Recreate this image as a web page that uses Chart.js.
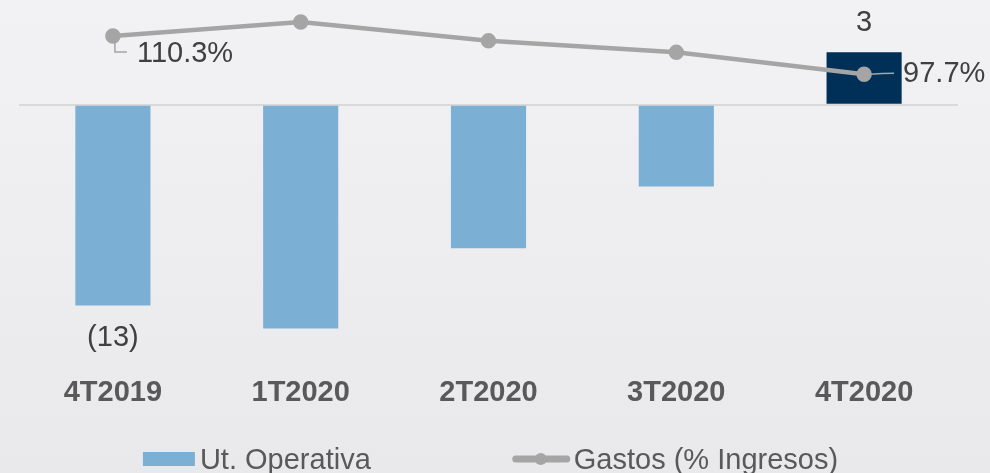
<!DOCTYPE html>
<html>
<head>
<meta charset="utf-8">
<script src="https://cdn.jsdelivr.net/npm/chart.js@4.4.1/dist/chart.umd.min.js"></script>
<style>
  html, body { margin: 0; padding: 0; }
  body { width: 990px; height: 473px; overflow: hidden; background: linear-gradient(#f2f1f3, #e9e8eb); }
  canvas { display: block; }
</style>
</head>
<body>
<canvas id="chart" width="990" height="473"></canvas>
<script>
// data
const categories = ['4T2019', '1T2020', '2T2020', '3T2020', '4T2020'];
const utOperativa = [-13, -14.5, -9.3, -5.3, 3.4];
const gastosPct = [110.3, 114.9, 108.7, 104.9, 97.7];
const barColors = ['#7bafd4', '#7bafd4', '#7bafd4', '#7bafd4', '#003057'];
const labeledIdx = [0, 4];

const FONT = '"Liberation Sans", Arial, sans-serif';
const LINE_GREY = '#a5a5a5';

// value labels for the first and last quarter
const valueLabels = {
    id: 'valueLabels',
    afterDatasetsDraw(chart) {
        const ctx = chart.ctx;
        ctx.save();
        ctx.font = '29px ' + FONT;
        ctx.fillStyle = '#404040';
        ctx.textBaseline = 'middle';

        const barMeta = chart.getDatasetMeta(0);
        labeledIdx.forEach(i => {
            const bar = barMeta.data[i];
            const v = utOperativa[i];
            const txt = v < 0 ? '(' + Math.abs(Math.round(v)) + ')' : String(Math.round(v));
            ctx.textAlign = 'center';
            ctx.fillText(txt, bar.x, v < 0 ? bar.y + 33 : bar.y - 29);
        });

        const lineMeta = chart.getDatasetMeta(1);
        ctx.strokeStyle = LINE_GREY;
        ctx.lineWidth = 1.5;
        ctx.textAlign = 'left';

        // first point: elbow leader down-right
        let p = lineMeta.data[labeledIdx[0]];
        ctx.beginPath();
        ctx.moveTo(p.x + 2, p.y + 5);
        ctx.lineTo(p.x + 2, p.y + 16);
        ctx.lineTo(p.x + 14, p.y + 16);
        ctx.stroke();
        ctx.fillText(gastosPct[labeledIdx[0]].toFixed(1) + '%', p.x + 24, p.y + 18);

        // last point: short leader to the right
        p = lineMeta.data[labeledIdx[1]];
        ctx.beginPath();
        ctx.moveTo(p.x + 6, p.y);
        ctx.quadraticCurveTo(p.x + 18, p.y - 1, p.x + 30, p.y - 1);
        ctx.stroke();
        ctx.fillText(gastosPct[labeledIdx[1]].toFixed(1) + '%', p.x + 39, p.y);
        ctx.restore();
    }
};

// legend drawn by hand so the gaps match the original
const bottomLegend = {
    id: 'bottomLegend',
    afterDraw(chart) {
        const ctx = chart.ctx;
        const area = chart.chartArea;
        const ds = chart.data.datasets;
        ctx.save();
        ctx.font = '29px ' + FONT;
        const w1 = 52 + 5 + ctx.measureText(ds[0].label).width;
        const w2 = 57 + 4 + ctx.measureText(ds[1].label).width;
        const gap = 142;
        let x = (area.left + area.right) / 2 - (w1 + gap + w2) / 2 + 2;
        const cy = chart.height - 14;

        ctx.fillStyle = barColors[0];
        ctx.fillRect(x, cy - 7, 52, 14);
        ctx.fillStyle = '#595959';
        ctx.textAlign = 'left';
        ctx.textBaseline = 'alphabetic';
        ctx.fillText(ds[0].label, x + 57, cy + 10);

        x += w1 + gap;
        ctx.strokeStyle = LINE_GREY;
        ctx.lineWidth = 7;
        ctx.lineCap = 'round';
        ctx.beginPath();
        ctx.moveTo(x + 3, cy);
        ctx.lineTo(x + 54, cy);
        ctx.stroke();
        ctx.fillStyle = LINE_GREY;
        ctx.beginPath();
        ctx.arc(x + 28, cy, 6, 0, Math.PI * 2);
        ctx.fill();
        ctx.fillStyle = '#595959';
        ctx.fillText(ds[1].label, x + 61, cy + 10);
        ctx.restore();
    }
};

new Chart(document.getElementById('chart'), {
    data: {
        labels: categories,
        datasets: [
            {
                type: 'bar',
                label: 'Ut. Operativa',
                data: utOperativa,
                backgroundColor: barColors,
                yAxisID: 'y',
                order: 1,
                barPercentage: 0.4,
                categoryPercentage: 1
            },
            {
                type: 'line',
                label: 'Gastos (% Ingresos)',
                data: gastosPct,
                yAxisID: 'y1',
                borderColor: LINE_GREY,
                backgroundColor: LINE_GREY,
                borderWidth: 4.5,
                pointRadius: 5.5,
                pointHoverRadius: 5.5,
                order: 0
            }
        ]
    },
    options: {
        responsive: false,
        animation: false,
        layout: { autoPadding: false, padding: { left: 19, right: 32, top: 0, bottom: 44 } },
        plugins: {
            legend: { display: false },
            tooltip: { enabled: false }
        },
        scales: {
            x: {
                grid: { display: false, drawTicks: false },
                border: { display: false },
                ticks: {
                    color: '#595959',
                    font: { family: FONT, size: 29, weight: 'bold' },
                    padding: 19,
                    maxRotation: 0,
                    autoSkip: false
                }
            },
            y: {
                position: 'left',
                min: -16.29,
                max: 6.79,
                ticks: { display: false },
                border: { display: false },
                grid: { drawTicks: false, lineWidth: 2, color: '#d9d9d9' },
                afterBuildTicks: s => { s.ticks = [{ value: 0 }]; }
            },
            y1: {
                display: false,
                min: 4.5,
                max: 122.2
            }
        }
    },
    plugins: [valueLabels, bottomLegend]
});
</script>
</body>
</html>
